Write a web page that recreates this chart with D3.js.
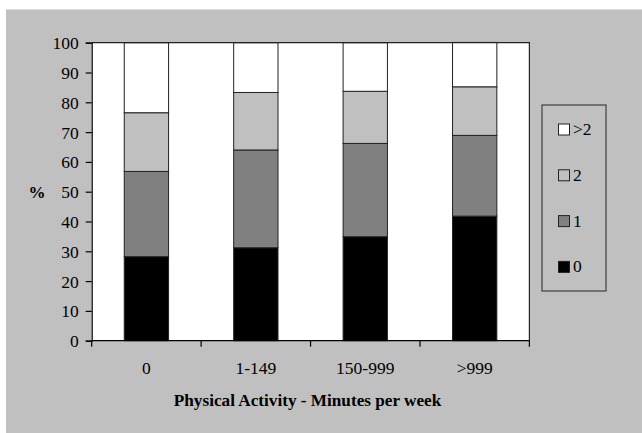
<!DOCTYPE html>
<html>
<head>
<meta charset="utf-8">
<script src="https://cdn.jsdelivr.net/npm/d3@7"></script>
<style>
  body { margin: 0; background: #fff; }
</style>
</head>
<body>
<script>
// chart data
const categories = ["0", "1-149", "150-999", ">999"];
const seriesNames = ["0", "1", "2", ">2"];
const zero = [28.2, 31.2, 34.9, 41.8];
const one = [28.6, 32.8, 31.3, 27.1];
const two = [19.7, 19.3, 17.5, 16.3];
const moreThanTwo = [23.5, 16.7, 16.3, 14.9];
const yTicks = [0, 10, 20, 30, 40, 50, 60, 70, 80, 90, 100];
const colors = ["#000000", "#808080", "#c0c0c0", "#ffffff"];

const width = 642, height = 433;
const plot = { left: 91.7, right: 529.4, top: 42.7, bottom: 340.7 };
const serif = '"Liberation Serif", "Times New Roman", serif';
const labelSize = "17.5px";

const svg = d3.select("body").append("svg")
  .attr("width", width)
  .attr("height", height);

// grey chart area
svg.append("rect")
  .attr("x", 6).attr("y", 9.5)
  .attr("width", width - 6).attr("height", height - 9.5)
  .attr("fill", "#c0c0c0");

// build the table for d3.stack
const table = categories.map((c, i) => ({
  cat: c, "0": zero[i], "1": one[i], "2": two[i], ">2": moreThanTwo[i]
}));
const stacked = d3.stack().keys(seriesNames)(table);

const x = d3.scaleBand().domain(categories).range([plot.left, plot.right]).padding(0);
const y = d3.scaleLinear().domain([0, 100]).range([plot.bottom, plot.top]);
const barW = x.bandwidth() * 0.405;

// white plot area
svg.append("rect")
  .attr("x", plot.left).attr("y", plot.top)
  .attr("width", plot.right - plot.left).attr("height", plot.bottom - plot.top)
  .attr("fill", "#fff");

// bars
svg.selectAll(".layer")
  .data(stacked)
  .enter().append("g")
  .attr("class", "layer")
  .attr("fill", (d, i) => colors[i])
  .selectAll("rect")
  .data(d => d)
  .enter().append("rect")
  .attr("x", d => x(d.data.cat) + (x.bandwidth() - barW) / 2)
  .attr("y", d => y(d[1]))
  .attr("width", barW)
  .attr("height", d => y(d[0]) - y(d[1]))
  .attr("stroke", "#222")
  .attr("stroke-width", 1);

// plot border (top and right)
svg.append("path")
  .attr("d", `M${plot.left},${plot.top}H${plot.right}V${plot.bottom}`)
  .attr("fill", "none")
  .attr("stroke", "#222")
  .attr("stroke-width", 1.2);

// y axis
const yAxis = svg.append("g")
  .attr("transform", `translate(${plot.left},0)`)
  .call(d3.axisLeft(y).tickValues(yTicks).tickSize(6).tickPadding(7));
yAxis.select(".domain").attr("stroke", "#000").attr("stroke-width", 1.2);
yAxis.selectAll(".tick line").attr("stroke", "#000").attr("stroke-width", 1.2);
yAxis.selectAll("text")
  .style("font-family", serif)
  .style("font-size", labelSize)
  .attr("fill", "#000")
  .attr("dy", "0.34em");

// x axis: line, ticks at category boundaries, labels centred
const xAxis = svg.append("g");
xAxis.append("line")
  .attr("x1", plot.left).attr("x2", plot.right)
  .attr("y1", plot.bottom).attr("y2", plot.bottom)
  .attr("stroke", "#000").attr("stroke-width", 1.2);
const bounds = categories.map(c => x(c)).concat([plot.right]);
xAxis.selectAll(".xt")
  .data(bounds)
  .enter().append("line")
  .attr("x1", d => d).attr("x2", d => d)
  .attr("y1", plot.bottom).attr("y2", plot.bottom + 6)
  .attr("stroke", "#000").attr("stroke-width", 1.2);
xAxis.selectAll(".xl")
  .data(categories)
  .enter().append("text")
  .attr("x", d => x(d) + x.bandwidth() / 2)
  .attr("y", 374)
  .attr("text-anchor", "middle")
  .style("font-family", serif)
  .style("font-size", labelSize)
  .text(d => d);

// axis titles
svg.append("text")
  .attr("x", (plot.left + plot.right) / 2 - 3)
  .attr("y", 406)
  .attr("text-anchor", "middle")
  .style("font-family", serif)
  .style("font-size", "17.2px")
  .style("font-weight", "bold")
  .text("Physical Activity - Minutes per week");

svg.append("text")
  .attr("x", 37)
  .attr("y", 198)
  .attr("text-anchor", "middle")
  .style("font-family", serif)
  .style("font-size", "17px")
  .style("font-weight", "bold")
  .text("%");

// legend
const legend = svg.append("g");
legend.append("rect")
  .attr("x", 542).attr("y", 105)
  .attr("width", 64).attr("height", 186)
  .attr("fill", "none")
  .attr("stroke", "#404040")
  .attr("stroke-width", 1.2);

const legendOrder = seriesNames.slice().reverse();
const item = legend.selectAll(".item")
  .data(legendOrder)
  .enter().append("g")
  .attr("transform", (d, i) => `translate(558.5,${124 + i * 45.8})`);
item.append("rect")
  .attr("width", 11).attr("height", 11)
  .attr("fill", d => colors[seriesNames.indexOf(d)])
  .attr("stroke", "#222")
  .attr("stroke-width", 1);
item.append("text")
  .attr("x", 14.5)
  .attr("y", 11)
  .style("font-family", serif)
  .style("font-size", labelSize)
  .text(d => d);
</script>
</body>
</html>
